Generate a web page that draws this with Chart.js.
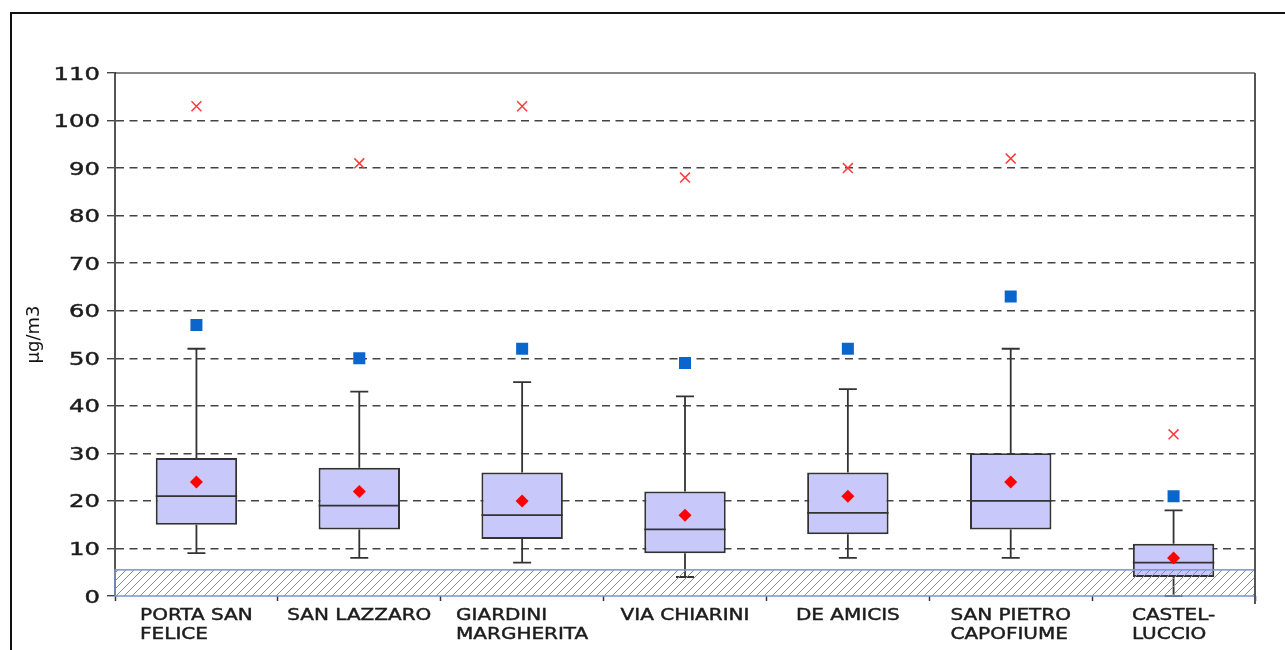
<!DOCTYPE html>
<html>
<head>
<meta charset="utf-8">
<script src="https://cdn.jsdelivr.net/npm/chart.js@4.4.0/dist/chart.umd.min.js"></script>
<style>
  html, body { margin: 0; padding: 0; background: #fff; }
  #wrap { width: 1285px; height: 650px; }
</style>
</head>
<body>
<div id="wrap"><canvas id="chart" width="1285" height="650"></canvas></div>
<script>
// stations (x categories, already split in lines)
const stations = [
  ["PORTA SAN", "FELICE"],
  ["SAN LAZZARO"],
  ["GIARDINI", "MARGHERITA"],
  ["VIA CHIARINI"],
  ["DE AMICIS"],
  ["SAN PIETRO", "CAPOFIUME"],
  ["CASTEL-", "LUCCIO"]
];
// box plot values, µg/m3
const whiskerLow = [9, 8, 7, 4, 8, 8, 0];
const q1 = [15, 14, 12, 9, 13, 14, 4];
const median = [21, 19, 17, 14, 17.5, 20, 7];
const q3 = [29, 27, 26, 22, 26, 30, 11];
const whiskerHigh = [52, 43, 45, 42, 43.5, 52, 18];
const mean = [24, 22, 20, 17, 21, 24, 8];
const percentile = [57, 50, 52, 49, 52, 63, 21];
const maxValues = [103, 91, 103, 88, 90, 92, 34];
const detectionLimit = 5.5;
const yMax = 110;
const yStep = 10;
const yTitle = "µg/m3";

const boxes = q1.map((v, i) => [v, q3[i]]);

// hatch pattern for the area under the detection limit
const makeHatch = (ctx) => {
  const c = document.createElement("canvas");
  c.width = 8;
  c.height = 8;
  const p = c.getContext("2d");
  p.strokeStyle = "#8a8a8a";
  p.lineWidth = 1;
  p.beginPath();
  p.moveTo(0, 8);
  p.lineTo(8, 0);
  p.moveTo(-2, 2);
  p.lineTo(2, -2);
  p.moveTo(6, 10);
  p.lineTo(10, 6);
  p.stroke();
  return ctx.createPattern(c, "repeat");
};

// wide, slightly heavy text like the original picture
const wideText = (ctx, text, x, y, sx) => {
  ctx.save();
  ctx.translate(x, y);
  ctx.scale(sx, 1);
  ctx.fillText(text, 0, 0);
  ctx.strokeText(text, 0, 0);
  ctx.restore();
};

const boxExtras = {
  id: "boxExtras",
  afterDatasetDraw(chart, args) {
    if (args.index !== 0) return;
    const { ctx } = chart;
    const x = chart.scales.x;
    const y = chart.scales.y;
    const bars = chart.getDatasetMeta(0).data;
    ctx.save();
    ctx.strokeStyle = "#333";
    ctx.lineWidth = 1.8;
    bars.forEach((bar, i) => {
      const cx = x.getPixelForValue(i);
      const half = bar.width / 2;
      const cap = 9;
      ctx.beginPath();
      // upper whisker
      ctx.moveTo(cx, y.getPixelForValue(q3[i]));
      ctx.lineTo(cx, y.getPixelForValue(whiskerHigh[i]));
      ctx.moveTo(cx - cap, y.getPixelForValue(whiskerHigh[i]));
      ctx.lineTo(cx + cap, y.getPixelForValue(whiskerHigh[i]));
      // lower whisker
      ctx.moveTo(cx, y.getPixelForValue(q1[i]));
      ctx.lineTo(cx, y.getPixelForValue(whiskerLow[i]));
      ctx.moveTo(cx - cap, y.getPixelForValue(whiskerLow[i]));
      ctx.lineTo(cx + cap, y.getPixelForValue(whiskerLow[i]));
      // median
      ctx.moveTo(cx - half, y.getPixelForValue(median[i]));
      ctx.lineTo(cx + half, y.getPixelForValue(median[i]));
      ctx.stroke();
    });
    ctx.restore();
  },
  afterDatasetsDraw(chart) {
    const { ctx, chartArea } = chart;
    const y = chart.scales.y;
    const top = y.getPixelForValue(detectionLimit);
    const bottom = y.getPixelForValue(0);
    ctx.save();
    ctx.fillStyle = makeHatch(ctx);
    ctx.fillRect(chartArea.left, top, chartArea.right - chartArea.left, bottom - top);
    ctx.strokeStyle = "#7b97c9";
    ctx.lineWidth = 1.5;
    ctx.strokeRect(chartArea.left, top, chartArea.right - chartArea.left, bottom - top);
    ctx.restore();
  },
  afterDraw(chart) {
    const { ctx, chartArea } = chart;
    const x = chart.scales.x;
    const y = chart.scales.y;
    ctx.save();
    // plot frame: top and right
    ctx.strokeStyle = "#111";
    ctx.lineWidth = 1.2;
    ctx.beginPath();
    ctx.moveTo(chartArea.left, chartArea.top);
    ctx.lineTo(chartArea.right, chartArea.top);
    ctx.stroke();
    ctx.strokeStyle = "#555";
    ctx.lineWidth = 2;
    ctx.beginPath();
    ctx.moveTo(chartArea.right, chartArea.top);
    ctx.lineTo(chartArea.right, chartArea.bottom + 8);
    ctx.stroke();
    // outer frame
    ctx.strokeStyle = "#111";
    ctx.lineWidth = 2;
    ctx.beginPath();
    ctx.moveTo(11, 650);
    ctx.lineTo(11, 13);
    ctx.lineTo(1285, 13);
    ctx.stroke();

    ctx.fillStyle = "#1c1c1c";
    ctx.strokeStyle = "#1c1c1c";
    ctx.lineWidth = 0.45;
    ctx.textBaseline = "alphabetic";

    // y tick labels
    ctx.font = "18px 'DejaVu Sans'";
    ctx.textAlign = "right";
    y.ticks.forEach((t) => {
      wideText(ctx, String(t.value), 100, y.getPixelForValue(t.value) + 6.5, 1.35);
    });

    // x labels: block centred, lines left aligned
    ctx.font = "16px 'DejaVu Sans'";
    ctx.textAlign = "left";
    const sx = 1.25;
    stations.forEach((lines, i) => {
      const cx = x.getPixelForValue(i);
      const w = Math.max(...lines.map((l) => ctx.measureText(l).width)) * sx;
      lines.forEach((line, k) => {
        wideText(ctx, line, cx - w / 2, chartArea.bottom + 24 + k * 18.5, sx);
      });
    });
    ctx.restore();
  }
};

new Chart(document.getElementById("chart"), {
  type: "bar",
  data: {
    labels: stations,
    datasets: [
      {
        label: "box",
        data: boxes,
        backgroundColor: "#c8c8fb",
        borderColor: "#333",
        borderWidth: 2,
        borderSkipped: false,
        barPercentage: 0.5,
        categoryPercentage: 1,
        order: 3,
      },
      {
        type: "line",
        label: "max",
        data: maxValues,
        showLine: false,
        pointStyle: "crossRot",
        pointRadius: 7,
        borderColor: "#ff3b3b",
        pointBorderWidth: 1.5,
        order: 1,
      },
      {
        type: "line",
        label: "percentile",
        data: percentile,
        showLine: false,
        pointStyle: "rect",
        pointRadius: 8.5,
        backgroundColor: "#0a66cc",
        borderColor: "#0a66cc",
        pointBorderWidth: 0,
        order: 1,
      },
      {
        type: "line",
        label: "mean",
        data: mean,
        showLine: false,
        pointStyle: "rectRot",
        pointRadius: 6.5,
        backgroundColor: "#ff0000",
        borderColor: "#ff0000",
        pointBorderWidth: 0,
        order: 0,
      },
    ],
  },
  options: {
    responsive: false,
    animation: false,
    layout: { padding: { left: 0, right: 30, top: 73, bottom: 0 } },
    plugins: {
      legend: { display: false },
      tooltip: { enabled: false },
    },
    scales: {
      x: {
        offset: true,
        grid: {
          offset: true,
          drawOnChartArea: false,
          tickLength: 5,
          tickColor: "#333",
          tickWidth: 1.5,
        },
        border: { display: false },
        ticks: { display: false },
        afterFit: (scale) => {
          scale.height = 54;
        },
      },
      y: {
        min: 0,
        max: yMax,
        ticks: { stepSize: yStep, display: false },
        grid: {
          color: (c) => (c.tick.value === 0 || c.tick.value === yMax ? "rgba(0,0,0,0)" : "#444"),
          lineWidth: 1.4,
          tickColor: "#444",
          tickLength: 8,
          tickWidth: 1.4,
        },
        border: { display: true, color: "#555", width: 2, dash: [8, 5.5] },
        title: {
          display: true,
          text: yTitle,
          color: "#111",
          font: { family: "DejaVu Sans", size: 18 },
          padding: { top: 24, bottom: 0 },
        },
        afterFit: (scale) => {
          scale.width = 115;
        },
      },
    },
  },
  plugins: [boxExtras],
});
</script>
</body>
</html>
